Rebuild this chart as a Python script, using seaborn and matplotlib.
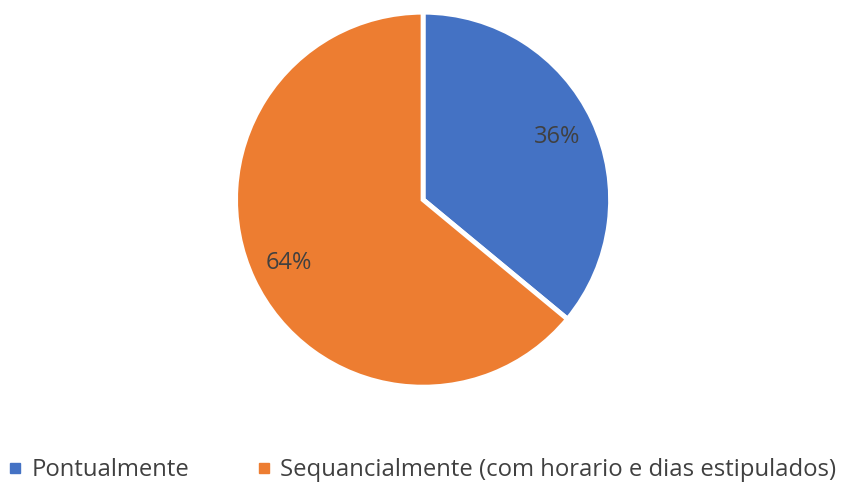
import matplotlib
matplotlib.use("Agg")
import matplotlib.pyplot as plt
import seaborn as sns
from matplotlib.lines import Line2D

categories = ["Pontualmente", "Sequancialmente (com horario e dias estipulados)"]
values = [36, 64]
colors = ["#4472C4", "#ED7D31"]

sns.set_theme(style="white")
plt.rcParams["font.family"] = ["Open Sans", "DejaVu Sans"]

fig = plt.figure(figsize=(8.47, 4.87), dpi=100)
ax = fig.add_axes([0.275, 0.205, 0.449, 0.770])
wedges, texts, autotexts = ax.pie(
    values, colors=colors, startangle=90, counterclock=False,
    autopct=lambda p: f"{p:.0f}%", pctdistance=0.79,
    wedgeprops=dict(edgecolor="white", linewidth=3.5),
    textprops=dict(color="#404040", fontsize=17),
)
ax.set_xlim(-1.0, 1.0)
ax.set_ylim(-1.0, 1.0)
ax.set_aspect("equal")
ax.axis("off")

handles = [Line2D([], [], marker="s", linestyle="", color=c, markersize=7) for c in colors]
fig.legend(handles, categories, loc="center left", bbox_to_anchor=(0.008, 0.035),
           ncol=2, frameon=False, fontsize=17.2, handlelength=0.7, handletextpad=0.35,
           columnspacing=2.75, labelcolor="#404040", borderpad=0, borderaxespad=0)

fig.savefig("out.png", dpi=100)
